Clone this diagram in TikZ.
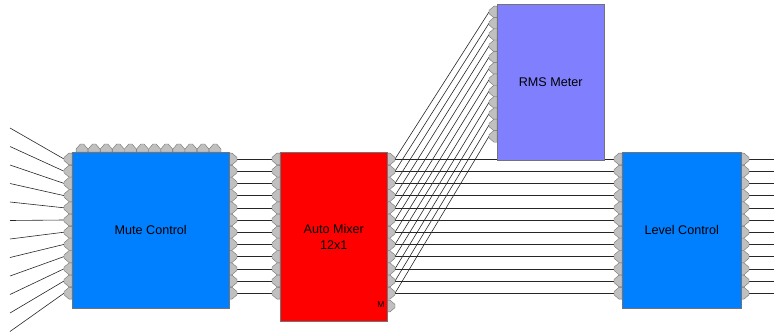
\documentclass[tikz,border=0pt]{standalone}
\usepackage{fontspec}
\setmainfont{Liberation Sans}
\usepackage{xcolor}
\usepackage{tikz}
\definecolor{blockblue}{HTML}{0080FF}
\definecolor{blockred}{HTML}{FF0000}
\definecolor{blockviolet}{HTML}{8080FF}
\definecolor{portgray}{HTML}{C0C0C0}
\tikzset{
    block/.style={
        draw=black!55,
        line width=0.5pt,
        anchor=north west,
        inner sep=0pt,
        align=center,
        font=\fontsize{12.6}{16}\selectfont
    },
    block blue/.style={block, fill=blockblue},
    block red/.style={block, fill=blockred},
    block violet/.style={block, fill=blockviolet},
    port shape/.style={fill=portgray, draw=black!55, line width=0.4pt},
    port/.pic={
        \draw[port shape] (0,5.9) -- (-3,5.9) -- (-8,1.6) -- (-8,-1.6) -- (-3,-5.9) -- (0,-5.9) -- cycle;
    },
    wire/.style={line width=0.6pt, draw=black!85},
    port label/.style={inner sep=0pt, font=\fontsize{8.5}{9}\selectfont}
}

\begin{document}
\begin{tikzpicture}[x=1pt, y=-1pt]
    \useasboundingbox (0,0) rectangle (774,335);

    \foreach \i in {0,...,11} {
        \pgfmathsetmacro{\py}{159+12.2*\i}
        \pgfmathsetmacro{\sy}{128+18.5*\i}
        \pgfmathsetmacro{\ry}{12+11.3*\i}
        \coordinate (src\i) at (10,\sy);
        \coordinate (mutein\i) at (64,\py);
        \coordinate (muteout\i) at (237,\py);
        \coordinate (mixin\i) at (272,\py);
        \coordinate (mixout\i) at (395,\py);
        \coordinate (rmsin\i) at (489,\ry);
        \coordinate (levin\i) at (614,\py);
        \coordinate (levout\i) at (749,\py);
        \coordinate (out\i) at (774,\py);
    }

    \foreach \i in {0,...,11} {
        \draw[wire] (src\i) -- (mutein\i);
        \draw[wire] (muteout\i) -- (mixin\i);
        \draw[wire] (mixout\i) -- (levin\i);
        \draw[wire] (mixout\i) -- (rmsin\i);
        \draw[wire] (levout\i) -- (out\i);
    }

    \foreach \i in {0,...,11} {
        \pgfmathsetmacro{\py}{159+12.2*\i}
        \pgfmathsetmacro{\ry}{12+11.3*\i}
        \pgfmathsetmacro{\tx}{82+12.1*\i}
        \pic at (72,\py) {port};
        \pic[rotate=180] at (229,\py) {port};
        \pic[rotate=-90] at (\tx,152) {port};
        \pic at (280,\py) {port};
        \pic[rotate=180] at (387,\py) {port};
        \pic at (497,\ry) {port};
        \pic at (622,\py) {port};
        \pic[rotate=180] at (741,\py) {port};
    }
    \pic[rotate=180] at (387,306) {port};

    \node[block blue, minimum width=157pt, minimum height=156pt] (mute) at (72,152) {Mute Control};
    \node[block red, minimum width=107pt, minimum height=169pt] (mixer) at (280,152) {Auto Mixer\\12x1};
    \node[block violet, minimum width=107pt, minimum height=156pt] (rms) at (497,4) {RMS Meter};
    \node[block blue, minimum width=119pt, minimum height=156pt] (level) at (622,152) {Level Control};
    \node[port label] (mlabel) at (381,305) {M};
\end{tikzpicture}
\end{document}
